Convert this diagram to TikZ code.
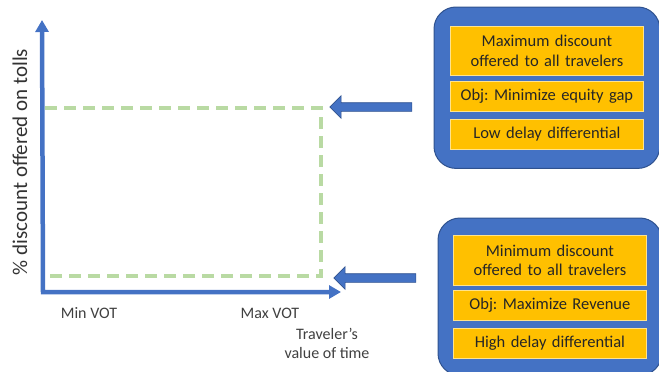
\documentclass[tikz,border=0pt]{standalone}
\usepackage{fontspec}
\setmainfont{Carlito}
\usetikzlibrary{positioning,fit,shapes.arrows,arrows.meta,backgrounds}
\definecolor{axisblue}{HTML}{4472C4}
\definecolor{boxedge}{HTML}{2F528F}
\definecolor{gold}{HTML}{FFC000}
\definecolor{dashgreen}{HTML}{B9DAA3}
\definecolor{labelgray}{HTML}{404040}
\frenchspacing

\begin{document}
\begin{tikzpicture}[x=1pt,y=-1pt,
		axis/.style={draw=axisblue,line width=4.5pt,{Triangle[width=13pt,length=12pt]}-{Triangle[width=13pt,length=12pt]}},
		levelline/.style={draw=dashgreen,line width=3.2pt,dash pattern=on 12pt off 7pt},
		axislabel/.style={text=labelgray,font=\fontsize{16}{19}\selectfont,align=center},
		goldbox/.style={fill=gold,draw=gold!45!white,line width=0.8pt,text=black!85,minimum width=193pt,text width=185pt,minimum height=30pt,align=center,inner sep=3pt,font=\fontsize{16.5}{19.5}\selectfont},
		bluebox/.style={fill=axisblue,draw=boxedge,line width=1pt,rounded corners=22pt},
		blockarrow/.style={single arrow,fill=axisblue,draw=boxedge,line width=0.6pt,shape border rotate=180,inner sep=4pt,single arrow head extend=7pt,minimum height=82pt}]
	\path[use as bounding box] (0,0) rectangle (659,372);

	% axes
	\coordinate (origin)	at (43,292);
	\coordinate (ytip)		at (42,20);
	\coordinate (xtip)		at (341,292);
	\draw[axis] (ytip) -- (origin) -- (xtip);

	% discount levels
	\coordinate (maxstart)	at (45,108);
	\coordinate (maxend)	at (321,108);
	\coordinate (minstart)	at (45,276);
	\coordinate (minend)	at (321,276);
	\draw[levelline] (maxstart) -- (maxend) -- (minend) -- (minstart);

	\node[axislabel,rotate=90,text=black!80,font=\fontsize{21}{25}\selectfont]	(ylabel)	at (20,162)	{\% discount offered on tolls};
	\node[axislabel]	(minvot)	at (89,313)		{Min VOT};
	\node[axislabel]	(maxvot)	at (270,313)	{Max VOT};
	\node[axislabel]	(xlabel)	at (327,343)	{Traveler’s\\value of time};

	% upper box
	\node[goldbox,anchor=north west,minimum height=49pt]	(maxdisc)	at (450,26)		{Maximum discount\\offered to all travelers};
	\node[goldbox,below=5pt of maxdisc]						(equity)	{Obj: Minimize equity gap};
	\node[goldbox,below=7pt of equity]						(lowdelay)	{Low delay differential};

	% lower box
	\node[goldbox,anchor=north west,minimum height=50pt]	(mindisc)	at (453,235)	{Minimum discount\\offered to all travelers};
	\node[goldbox,below=4pt of mindisc]						(revenue)	{Obj: Maximize Revenue};
	\node[goldbox,below=7pt of revenue]						(highdelay)	{High delay differential};

	\begin{pgfonlayer}{background}
		\node[bluebox,fit=(maxdisc)(lowdelay),inner xsep=16pt,inner ysep=19pt]	(upper)	{};
		\node[bluebox,fit=(mindisc)(highdelay),inner xsep=15pt,inner ysep=17pt]	(lower)	{};
	\end{pgfonlayer}

	\node[blockarrow]	(maxarrow)	at (373,107)	{};
	\node[blockarrow]	(minarrow)	at (377,278)	{};
\end{tikzpicture}
\end{document}
